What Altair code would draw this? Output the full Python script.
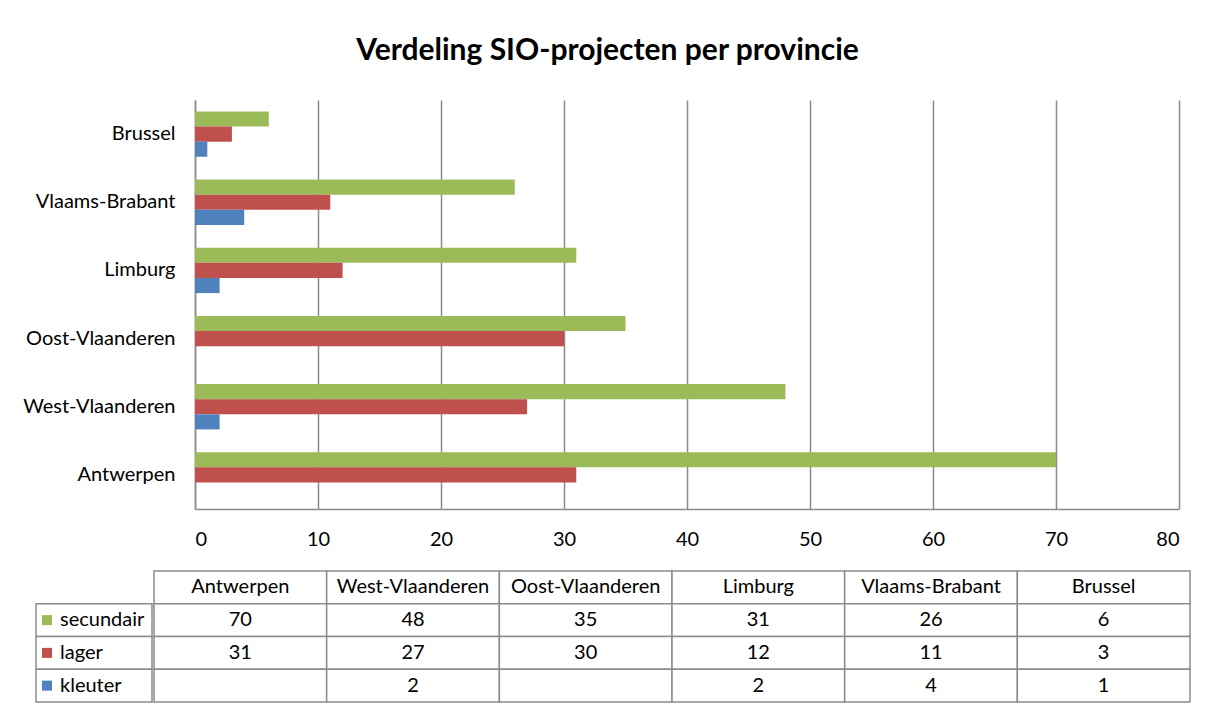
import altair as alt
import pandas as pd

# ---- data -------------------------------------------------------------
provinces = ["Antwerpen", "West-Vlaanderen", "Oost-Vlaanderen", "Limburg", "Vlaams-Brabant", "Brussel"]
series = ["secundair", "lager", "kleuter"]
secundair = [70, 48, 35, 31, 26, 6]
lager = [31, 27, 30, 12, 11, 3]
kleuter = [None, 2, None, 2, 4, 1]
colors = ["#9BBB59", "#C0504D", "#4F81BD"]
x_ticks = [0, 10, 20, 30, 40, 50, 60, 70, 80]
title_text = "Verdeling SIO-projecten per provincie"
header_key = "kop"

FONT = "Lato"
GRID = "#8c8c8c"
LABEL_SIZE = 20

# ---- tables -----------------------------------------------------------
rows = []
for s, vals in zip(series, [secundair, lager, kleuter]):
    for p, v in zip(provinces, vals):
        rows.append({"provincie": p, "reeks": s, "waarde": v})
df = pd.DataFrame(rows)
df_bars = df.dropna(subset=["waarde"])

table_rows = [header_key] + series
cells = []
for p in provinces:
    cells.append({"provincie": p, "rij": header_key, "tekst": p})
for s, vals in zip(series, [secundair, lager, kleuter]):
    for p, v in zip(provinces, vals):
        cells.append({"provincie": p, "rij": s, "tekst": "" if v is None else str(int(v))})
cells_df = pd.DataFrame(cells)
legend_df = pd.DataFrame({"reeks": series, "kolom": ["legenda"] * len(series)})

# ---- bar chart --------------------------------------------------------
top = alt.Chart(
    df_bars,
    title=alt.TitleParams(title_text, font=FONT, fontSize=30, fontWeight="bold",
                          color="black", anchor="middle", offset=34),
).mark_bar().encode(
    x=alt.X("waarde:Q",
            scale=alt.Scale(domain=[0, 80], range=[159, 1143], nice=False),
            axis=alt.Axis(values=x_ticks, title=None, grid=True, gridColor=GRID,
                          gridWidth=1.5, domainColor=GRID, domainWidth=1.5,
                          ticks=False, labelPadding=20, labelFontSize=LABEL_SIZE,
                          labelFont=FONT, labelColor="black")),
    y=alt.Y("provincie:N", sort=list(reversed(provinces)),
            scale=alt.Scale(paddingInner=0.335, paddingOuter=0.1675),
            axis=alt.Axis(title=None, offset=-159, ticks=False, domainColor=GRID,
                          domainWidth=1.5, labelPadding=20, labelFontSize=LABEL_SIZE,
                          labelFont=FONT, labelColor="black")),
    yOffset=alt.YOffset("reeks:N", sort=series,
                        scale=alt.Scale(paddingInner=0, paddingOuter=0)),
    color=alt.Color("reeks:N", scale=alt.Scale(domain=series, range=colors), legend=None),
).properties(width=1143, height=409)

# ---- data table -------------------------------------------------------
base = alt.Chart(cells_df).encode(
    x=alt.X("provincie:N", sort=provinces, axis=None,
            scale=alt.Scale(paddingInner=0, paddingOuter=0)),
    y=alt.Y("rij:N", sort=table_rows, axis=None,
            scale=alt.Scale(domain=table_rows, paddingInner=0, paddingOuter=0)),
)
cell_rects = base.mark_rect(fill="white", stroke=GRID, strokeWidth=1.5)
cell_text = base.mark_text(font=FONT, fontSize=LABEL_SIZE, color="black").encode(text="tekst:N")
values_chart = (cell_rects + cell_text).properties(width=1036, height=131)

lbase = alt.Chart(legend_df).encode(
    y=alt.Y("reeks:N", axis=None,
            scale=alt.Scale(domain=table_rows, paddingInner=0, paddingOuter=0)),
)
l_rects = lbase.mark_rect(fill="white", stroke=GRID, strokeWidth=1.5).encode(
    x=alt.X("kolom:N", axis=None, scale=alt.Scale(paddingInner=0, paddingOuter=0)))
l_swatch = lbase.mark_square(size=100, opacity=1).encode(
    x=alt.value(11),
    color=alt.Color("reeks:N", scale=alt.Scale(domain=series, range=colors), legend=None))
l_text = lbase.mark_text(font=FONT, fontSize=LABEL_SIZE, color="black", align="left").encode(
    x=alt.value(24), text="reeks:N")
legend_chart = (l_rects + l_swatch + l_text).properties(width=116, height=131)

table = alt.hconcat(legend_chart, values_chart, spacing=0)

chart = alt.vconcat(top, table, spacing=21).properties(
    padding={"left": 14, "top": 28, "right": 5, "bottom": 5}
).configure_view(strokeWidth=0)

chart.save("out.html", embed_options={"renderer": "svg", "actions": False})
